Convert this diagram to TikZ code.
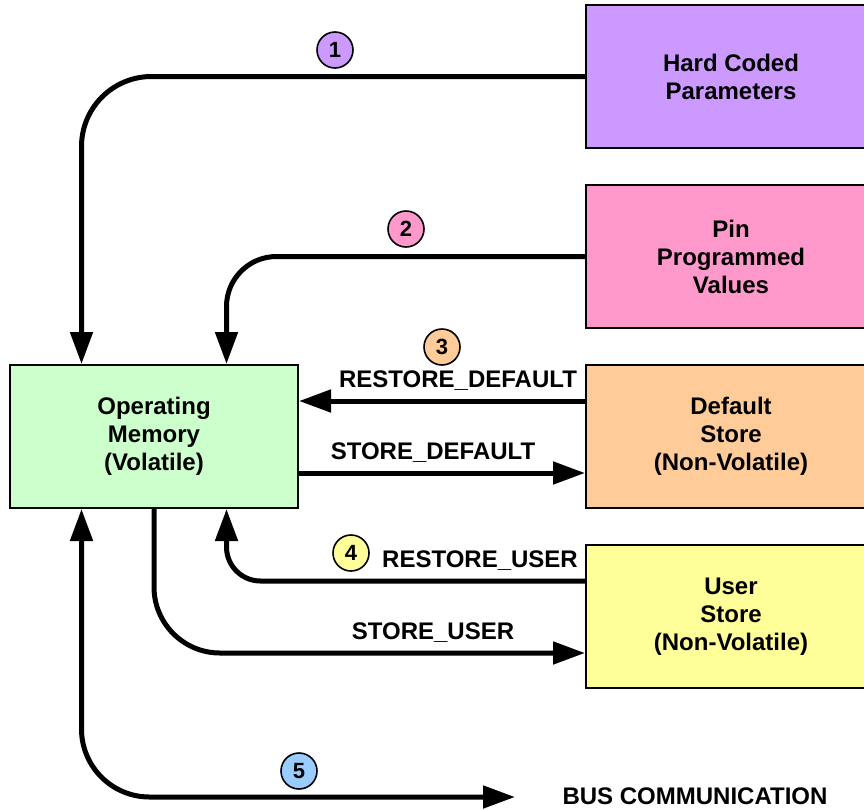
\documentclass[tikz,border=0pt]{standalone}
\usepackage{fontspec}
\setmainfont{Liberation Sans}
\usetikzlibrary{arrows.meta,calc}
\definecolor{cpurple}{HTML}{CC99FF}
\definecolor{cpink}{HTML}{FF99CC}
\definecolor{corange}{HTML}{FFCC99}
\definecolor{cyellow}{HTML}{FFFF99}
\definecolor{cgreen}{HTML}{CCFFCC}
\definecolor{cblue}{HTML}{99CCFF}
\tikzset{
  box/.style={draw=black, line width=2pt, minimum height=143pt, align=center,
    font=\fontsize{24}{28}\selectfont\bfseries, inner sep=0pt},
  sidebox/.style={box, minimum width=290pt},
  lbl/.style={font=\fontsize{24}{28}\selectfont\bfseries, inner sep=0pt},
  num/.style={circle, draw=black, line width=1.6pt, minimum size=36pt, inner sep=0pt,
    font=\fontsize{22}{24}\selectfont\bfseries},
  tip/.tip={Triangle[length=32pt,width=22pt]},
  conn/.style={line width=5pt, -tip},
}
\begin{document}
\begin{tikzpicture}[x=1pt,y=-1pt]
\useasboundingbox (0,0) rectangle (864,809);
\clip (0,0) rectangle (864,809);
% boxes
\node[sidebox, fill=cpurple] (hc) at (731,76.5) {Hard Coded\\Parameters};
\node[sidebox, fill=cpink] (pp) at (731,256.5) {Pin\\Programmed\\Values};
\node[sidebox, fill=corange] (ds) at (731,436.5) {Default\\Store\\(Non-Volatile)};
\node[sidebox, fill=cyellow] (us) at (731,616.5) {User\\Store\\(Non-Volatile)};
\node[box, fill=cgreen, minimum width=288pt] (om) at (154,436.5) {Operating\\Memory\\(Volatile)};
% anchor helpers
\coordinate (omN1) at ($(om.north west)!0.25!(om.north east)$);
\coordinate (omN3) at ($(om.north west)!0.75!(om.north east)$);
\coordinate (omS1) at ($(om.south west)!0.25!(om.south east)$);
\coordinate (omS3) at ($(om.south west)!0.75!(om.south east)$);
\coordinate (rdS) at ([yshift=35.5pt]ds.west);
\coordinate (sdE) at ([yshift=-36.5pt]ds.west);
\coordinate (ruS) at ([yshift=35.5pt]us.west);
\coordinate (suE) at ([yshift=-36.5pt]us.west);
% connectors
\draw[conn, rounded corners=70pt] (hc.west) -| (omN1);
\draw[conn, rounded corners=50pt] (pp.west) -| (omN3);
\draw[conn] (rdS) -- (rdS -| om.east);
\draw[conn] (sdE -| om.east) -- (sdE);
\draw[conn, rounded corners=34pt] (ruS) -| (omS3);
\draw[conn, rounded corners=66pt] (om.south) |- (suE);
% labels
\node[lbl] (lrd) at (458,381) {RESTORE\_DEFAULT};
\node[lbl] (lsd) at (433,453) {STORE\_DEFAULT};
\node[lbl] (lru) at (480,561) {RESTORE\_USER};
\node[lbl] (lsu) at (433,633) {STORE\_USER};
\node[lbl] (bus) at (695,796) {BUS COMMUNICATION};
\coordinate (busE) at (515,797);
\draw[line width=5pt, tip-tip, rounded corners=68pt] (omS1) |- (busE);
% numbered circles
\node[num, fill=cpurple] (n1) at (335,50) {1};
\node[num, fill=cpink] (n2) at (406,229) {2};
\node[num, fill=corange] (n3) at (442,347) {3};
\node[num, fill=cyellow] (n4) at (351,553) {4};
\node[num, fill=cblue] (n5) at (299,771) {5};
\end{tikzpicture}
\end{document}
